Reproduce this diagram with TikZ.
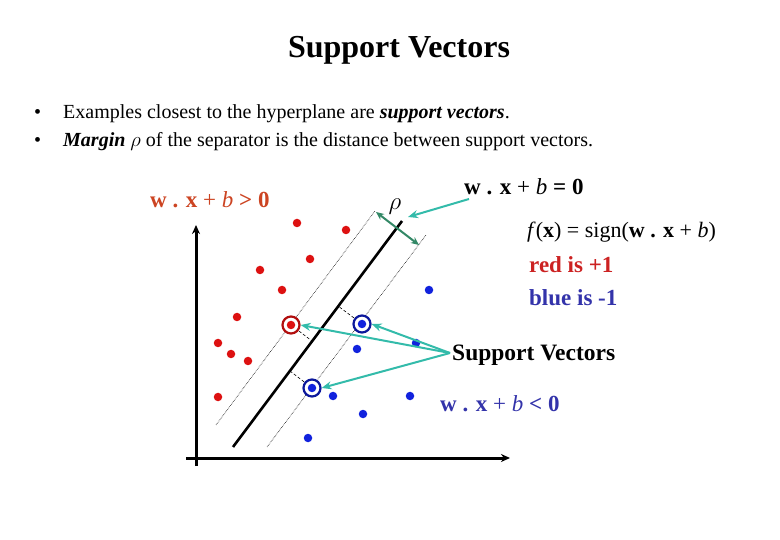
\documentclass[tikz,border=0pt]{standalone}
\usepackage{fontspec}
\setmainfont{Liberation Serif}
\usetikzlibrary{arrows.meta}
\definecolor{rd}{HTML}{DD1111}
\definecolor{bl}{HTML}{1122DD}
\definecolor{redtxt}{HTML}{CC2222}
\definecolor{bltxt}{HTML}{3333AA}
\definecolor{orng}{HTML}{CC4422}
\definecolor{teal}{HTML}{33BBAA}
\definecolor{dgreen}{HTML}{338866}
\begin{document}
\begin{tikzpicture}[x=1pt,y=-1pt,
  rp/.style={circle,fill=rd,inner sep=0pt,minimum size=8.5pt},
  bp/.style={circle,fill=bl,inner sep=0pt,minimum size=8.5pt},
  rsv/.style={circle,draw=rd!80!black,fill=white,line width=2.2pt,inner sep=0pt,minimum size=17pt},
  bsv/.style={circle,draw=bl!70!black,fill=white,line width=2.2pt,inner sep=0pt,minimum size=17pt},
  tarr/.style={teal,line width=2pt,-{Stealth[length=10pt,width=8pt]}},
  txt/.style={inner sep=0pt,anchor=west},
  marg/.style={densely dotted,line width=0.6pt}]
\useasboundingbox (0,0) rectangle (780,540);
\node (title) at (399,50) {\fontsize{32}{34}\selectfont\bfseries Support Vectors};
\node[txt] (b1) at (34,114) {\fontsize{20}{24}\selectfont •};
\node[txt] (t1) at (63,114) {\fontsize{20}{24}\selectfont Examples closest to the hyperplane are \textbf{\textit{support vectors}}.};
\node[txt] (b2) at (34,142) {\fontsize{20}{24}\selectfont •};
\node[txt] (t2) at (63,142) {\fontsize{20}{24}\selectfont \textbf{\textit{Margin}} $\rho$ of the separator is the distance between support vectors.};
% axes
\coordinate (o1) at (196,466); \coordinate (yt) at (196,225);
\coordinate (o2) at (186,458); \coordinate (xt) at (510,458);
\draw[line width=3pt,-{Stealth[length=9pt,width=8pt]}] (o1) -- (yt);
\draw[line width=3pt,-{Stealth[length=9pt,width=8pt]}] (o2) -- (xt);
% hyperplane and margins
\coordinate (h1) at (233,447); \coordinate (h2) at (402,221);
\draw[line width=2.6pt] (h1) -- (h2);
\coordinate (l1) at (216,425); \coordinate (l2) at (375,211);
\coordinate (r1) at (267,447); \coordinate (r2) at (426,235);
\draw[marg] (l1) -- (l2);
\draw[marg] (r1) -- (r2);
% perpendicular dashes
\coordinate (p1) at (312,341); \coordinate (p2) at (338,306); \coordinate (p3) at (290,371);
\coordinate (c1) at (291,325); \coordinate (c2) at (362,324); \coordinate (c3) at (312,388);
\draw[densely dashed,line width=0.6pt] (c1) -- (p1);
\draw[densely dashed,line width=0.6pt] (c2) -- (p2);
\draw[densely dashed,line width=0.6pt] (c3) -- (p3);
% points
\foreach \p [count=\i] in {(297,223),(346,230),(310,259),(260,270),(282,290),(237,317),(218,343),(231,354),(248,361),(218,397)}
  \node[rp] (r\i) at \p {};
\foreach \p [count=\i] in {(429,290),(416,343),(357,349),(333,396),(410,396),(363,414),(308,438)}
  \node[bp] (u\i) at \p {};
\node[rsv] (s1) at (c1) {}; \node[rp] (d1) at (c1) {};
\node[bsv] (s2) at (c2) {}; \node[bp] (d2) at (c2) {};
\node[bsv] (s3) at (c3) {}; \node[bp] (d3) at (c3) {};
% rho
\coordinate (ra) at (376,212); \coordinate (rb) at (419,245);
\draw[dgreen,line width=2pt,{Stealth[length=8pt,width=7pt]}-{Stealth[length=8pt,width=7pt]}] (ra) -- (rb);
\node (rho) at (395,207) {\fontsize{23}{25}\selectfont$\rho$};
% labels
\node[txt,text=orng] (gt) at (150,200) {\fontsize{23}{25}\selectfont\textbf{w . x} + \textit{b} \textbf{> 0}};
\node[txt] (eq) at (464,187) {\fontsize{23}{25}\selectfont\textbf{w . x} + \textit{b} \textbf{= 0}};
\node[txt] (fx) at (527,232) {\fontsize{22}{25}\selectfont\textit{f}(\textbf{x}) = sign(\textbf{w . x} + \textit{b})};
\node[txt,text=redtxt] (ri) at (529,265) {\fontsize{23}{25}\selectfont\bfseries red is +1};
\node[txt,text=bltxt] (bi) at (529,298) {\fontsize{23}{25}\selectfont\bfseries blue is -1};
\node[txt] (sv) at (452,355) {\fontsize{23.5}{25}\selectfont\bfseries Support Vectors};
\node[txt,text=bltxt] (lt) at (440,404) {\fontsize{23}{25}\selectfont\textbf{w . x} + \textit{b} \textbf{< 0}};
% teal arrows
\coordinate (eqa) at (469,199);
\draw[tarr] (eqa) -- (408,217);
\coordinate (sva) at (450,353);
\draw[tarr] (sva) -- (s1.east);
\draw[tarr] (sva) -- (s2.east);
\draw[tarr] (sva) -- (s3.east);
\end{tikzpicture}
\end{document}
